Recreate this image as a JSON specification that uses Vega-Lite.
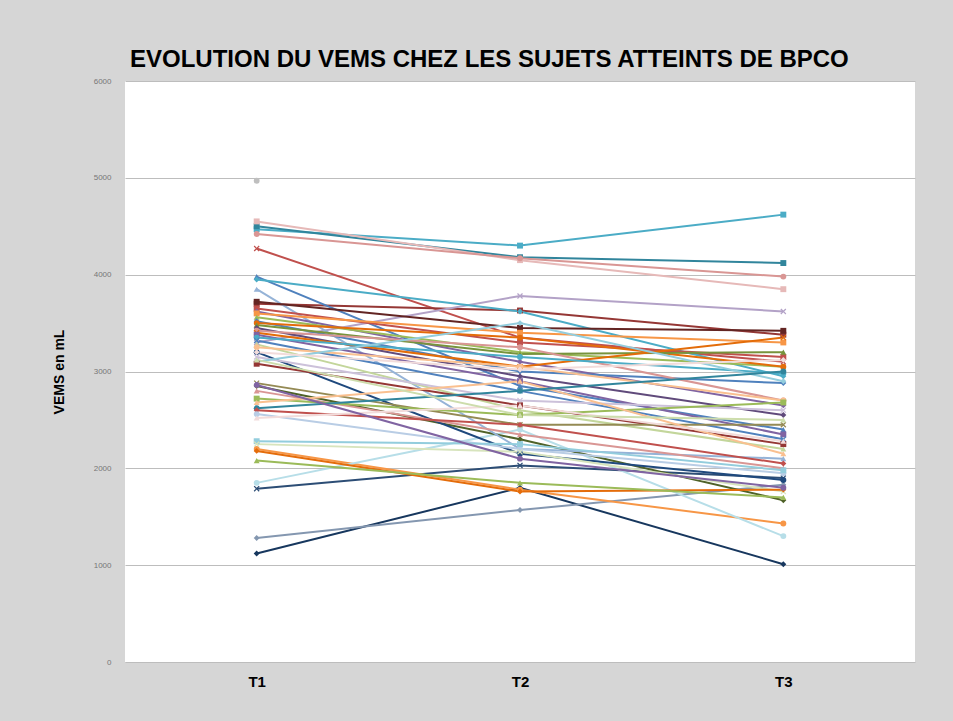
{
  "$schema": "https://vega.github.io/schema/vega-lite/v6.json",
  "width": 790,
  "height": 581,
  "autosize": {"type": "none"},
  "padding": {"left": 125, "top": 81, "right": 38, "bottom": 59},
  "background": "#d6d6d6",
  "title": {"text": "EVOLUTION DU VEMS CHEZ LES SUJETS ATTEINTS DE BPCO", "anchor": "start", "frame": "group", "dx": 5, "offset": 5, "font": "Liberation Sans", "fontSize": 24, "fontWeight": "bold", "color": "#000000"},
  "config": {"view": {"fill": "white", "stroke": null}},
  "data": {"values": [
    {"s":"s01","t":"T1","v":4470},{"s":"s01","t":"T2","v":4300},{"s":"s01","t":"T3","v":4620},
    {"s":"s02","t":"T1","v":4500},{"s":"s02","t":"T2","v":4180},{"s":"s02","t":"T3","v":4120},
    {"s":"s03","t":"T1","v":4550},{"s":"s03","t":"T2","v":4150},{"s":"s03","t":"T3","v":3850},
    {"s":"s04","t":"T1","v":4420},{"s":"s04","t":"T2","v":4170},{"s":"s04","t":"T3","v":3980},
    {"s":"s05","t":"T1","v":4270},{"s":"s05","t":"T2","v":3350},{"s":"s05","t":"T3","v":3100},
    {"s":"s06","t":"T1","v":4970},
    {"s":"s07","t":"T1","v":3700},{"s":"s07","t":"T2","v":3630},{"s":"s07","t":"T3","v":3380},
    {"s":"s08","t":"T1","v":3300},{"s":"s08","t":"T2","v":3780},{"s":"s08","t":"T3","v":3620},
    {"s":"s09","t":"T1","v":1120},{"s":"s09","t":"T2","v":1800},{"s":"s09","t":"T3","v":1010},
    {"s":"s10","t":"T1","v":1280},{"s":"s10","t":"T2","v":1570},{"s":"s10","t":"T3","v":1830},
    {"s":"s11","t":"T1","v":1790},{"s":"s11","t":"T2","v":2030},{"s":"s11","t":"T3","v":1900},
    {"s":"s12","t":"T1","v":2200},{"s":"s12","t":"T2","v":1780},{"s":"s12","t":"T3","v":1430},
    {"s":"s13","t":"T1","v":1850},{"s":"s13","t":"T2","v":2400},{"s":"s13","t":"T3","v":1300},
    {"s":"s14","t":"T1","v":2850},{"s":"s14","t":"T2","v":2300},{"s":"s14","t":"T3","v":1670},
    {"s":"s15","t":"T1","v":3980},{"s":"s15","t":"T2","v":2850},{"s":"s15","t":"T3","v":2400},
    {"s":"s16","t":"T1","v":3850},{"s":"s16","t":"T2","v":2200},{"s":"s16","t":"T3","v":2100},
    {"s":"s17","t":"T1","v":3950},{"s":"s17","t":"T2","v":3620},{"s":"s17","t":"T3","v":2950},
    {"s":"s18","t":"T1","v":3200},{"s":"s18","t":"T2","v":2150},{"s":"s18","t":"T3","v":1880},
    {"s":"s19","t":"T1","v":3720},{"s":"s19","t":"T2","v":3450},{"s":"s19","t":"T3","v":3420},
    {"s":"s20","t":"T1","v":3650},{"s":"s20","t":"T2","v":3300},{"s":"s20","t":"T3","v":3150},
    {"s":"s21","t":"T1","v":3620},{"s":"s21","t":"T2","v":3100},{"s":"s21","t":"T3","v":2650},
    {"s":"s22","t":"T1","v":3600},{"s":"s22","t":"T2","v":3400},{"s":"s22","t":"T3","v":3300},
    {"s":"s23","t":"T1","v":3560},{"s":"s23","t":"T2","v":3200},{"s":"s23","t":"T3","v":3050},
    {"s":"s24","t":"T1","v":3520},{"s":"s24","t":"T2","v":3000},{"s":"s24","t":"T3","v":2880},
    {"s":"s25","t":"T1","v":3500},{"s":"s25","t":"T2","v":3350},{"s":"s25","t":"T3","v":3050},
    {"s":"s26","t":"T1","v":3480},{"s":"s26","t":"T2","v":3180},{"s":"s26","t":"T3","v":3200},
    {"s":"s27","t":"T1","v":3450},{"s":"s27","t":"T2","v":2950},{"s":"s27","t":"T3","v":2550},
    {"s":"s28","t":"T1","v":3420},{"s":"s28","t":"T2","v":3250},{"s":"s28","t":"T3","v":2700},
    {"s":"s29","t":"T1","v":3400},{"s":"s29","t":"T2","v":3050},{"s":"s29","t":"T3","v":3350},
    {"s":"s30","t":"T1","v":3380},{"s":"s30","t":"T2","v":2900},{"s":"s30","t":"T3","v":2350},
    {"s":"s31","t":"T1","v":3350},{"s":"s31","t":"T2","v":3150},{"s":"s31","t":"T3","v":2980},
    {"s":"s32","t":"T1","v":3320},{"s":"s32","t":"T2","v":2800},{"s":"s32","t":"T3","v":2300},
    {"s":"s33","t":"T1","v":3280},{"s":"s33","t":"T2","v":2600},{"s":"s33","t":"T3","v":2200},
    {"s":"s34","t":"T1","v":3250},{"s":"s34","t":"T2","v":3050},{"s":"s34","t":"T3","v":2700},
    {"s":"s35","t":"T1","v":3150},{"s":"s35","t":"T2","v":2700},{"s":"s35","t":"T3","v":2600},
    {"s":"s36","t":"T1","v":3100},{"s":"s36","t":"T2","v":3500},{"s":"s36","t":"T3","v":2900},
    {"s":"s37","t":"T1","v":3080},{"s":"s37","t":"T2","v":2650},{"s":"s37","t":"T3","v":2250},
    {"s":"s38","t":"T1","v":2880},{"s":"s38","t":"T2","v":2450},{"s":"s38","t":"T3","v":2450},
    {"s":"s39","t":"T1","v":2800},{"s":"s39","t":"T2","v":2350},{"s":"s39","t":"T3","v":2000},
    {"s":"s40","t":"T1","v":2720},{"s":"s40","t":"T2","v":2550},{"s":"s40","t":"T3","v":2680},
    {"s":"s41","t":"T1","v":2680},{"s":"s41","t":"T2","v":2900},{"s":"s41","t":"T3","v":2150},
    {"s":"s42","t":"T1","v":2620},{"s":"s42","t":"T2","v":2800},{"s":"s42","t":"T3","v":3000},
    {"s":"s43","t":"T1","v":2600},{"s":"s43","t":"T2","v":2450},{"s":"s43","t":"T3","v":2050},
    {"s":"s44","t":"T1","v":2560},{"s":"s44","t":"T2","v":2200},{"s":"s44","t":"T3","v":1950},
    {"s":"s45","t":"T1","v":2520},{"s":"s45","t":"T2","v":2650},{"s":"s45","t":"T3","v":2280},
    {"s":"s46","t":"T1","v":2280},{"s":"s46","t":"T2","v":2250},{"s":"s46","t":"T3","v":1980},
    {"s":"s47","t":"T1","v":2250},{"s":"s47","t":"T2","v":2170},{"s":"s47","t":"T3","v":1760},
    {"s":"s48","t":"T1","v":2180},{"s":"s48","t":"T2","v":1760},{"s":"s48","t":"T3","v":1780},
    {"s":"s49","t":"T1","v":2080},{"s":"s49","t":"T2","v":1850},{"s":"s49","t":"T3","v":1700},
    {"s":"s50","t":"T1","v":2860},{"s":"s50","t":"T2","v":2100},{"s":"s50","t":"T3","v":1800},
    {"s":"s51","t":"T1","v":3200},{"s":"s51","t":"T2","v":3020},{"s":"s51","t":"T3","v":3120},
    {"s":"s52","t":"T1","v":3120},{"s":"s52","t":"T2","v":2550},{"s":"s52","t":"T3","v":2500}
  ]},
  "encoding": {
    "x": {"field": "t", "type": "nominal", "sort": ["T1", "T2", "T3"],
      "axis": {"title": null, "labelAngle": 0, "labelFont": "Liberation Sans", "labelFontSize": 15, "labelFontWeight": "bold", "labelColor": "#000000", "labelPadding": 12, "ticks": false, "domain": false, "grid": false}},
    "y": {"field": "v", "type": "quantitative", "scale": {"domain": [0, 6000], "nice": false},
      "axis": {"title": "VEMS en mL", "values": [0, 1000, 2000, 3000, 4000, 5000, 6000], "format": "d", "labelFont": "Liberation Sans", "labelFontSize": 8, "labelColor": "#777777", "labelPadding": 14, "ticks": false, "domain": false, "gridColor": "#bdbdbd", "gridWidth": 1, "titleFont": "Liberation Sans", "titleFontSize": 14, "titleFontWeight": "bold", "titleColor": "#000000", "titlePadding": 27}},
    "color": {"field": "s", "type": "nominal", "legend": null,
      "scale": {
        "domain": ["s01","s02","s03","s04","s05","s06","s07","s08","s09","s10","s11","s12","s13","s14","s15","s16","s17","s18","s19","s20","s21","s22","s23","s24","s25","s26","s27","s28","s29","s30","s31","s32","s33","s34","s35","s36","s37","s38","s39","s40","s41","s42","s43","s44","s45","s46","s47","s48","s49","s50","s51","s52"],
        "range": ["#4BACC6","#31859C","#E6B9B8","#D99694","#C0504D","#BFBFBF","#953735","#B3A2C7","#17375E","#8497B0","#2C4D75","#F79646","#B7DEE8","#4F6228","#4F81BD","#95B3D7","#4BACC6","#1F497D","#632523","#C0504D","#8064A2","#F79646","#9BBB59","#4F81BD","#E46C0A","#77933C","#604A7B","#D99694","#E36C09","#8064A2","#4BACC6","#4F81BD","#C3D69B","#FAC090","#CCC1DA","#93CDDD","#953735","#948A54","#D99694","#9BBB59","#FAC090","#31859C","#C0504D","#B9CDE5","#F2DCDB","#93CDDD","#D7E4BD","#E46C0A","#9BBB59","#8064A2","#F2DCDB","#CDDDAC"]
      }}
  },
  "layer": [
    {"mark": {"type": "line", "strokeWidth": 2}},
    {"mark": {"type": "point", "filled": true, "size": 35, "opacity": 1},
     "encoding": {"shape": {"field": "s", "type": "nominal", "legend": null,
       "scale": {
         "domain": ["s01","s02","s03","s04","s05","s06","s07","s08","s09","s10","s11","s12","s13","s14","s15","s16","s17","s18","s19","s20","s21","s22","s23","s24","s25","s26","s27","s28","s29","s30","s31","s32","s33","s34","s35","s36","s37","s38","s39","s40","s41","s42","s43","s44","s45","s46","s47","s48","s49","s50","s51","s52"],
         "range": ["square","square","square","circle","M-1,-0.7L-0.7,-1L0,-0.3L0.7,-1L1,-0.7L0.3,0L1,0.7L0.7,1L0,0.3L-0.7,1L-1,0.7L-0.3,0Z","circle","square","M-1,-0.7L-0.7,-1L0,-0.3L0.7,-1L1,-0.7L0.3,0L1,0.7L0.7,1L0,0.3L-0.7,1L-1,0.7L-0.3,0Z","diamond","diamond","M-1,-0.7L-0.7,-1L0,-0.3L0.7,-1L1,-0.7L0.3,0L1,0.7L0.7,1L0,0.3L-0.7,1L-1,0.7L-0.3,0Z","circle","circle","diamond","triangle-up","triangle-up","diamond","circle","square","square","diamond","square","triangle-up","diamond","circle","triangle-up","diamond","circle","M-1,-0.7L-0.7,-1L0,-0.3L0.7,-1L1,-0.7L0.3,0L1,0.7L0.7,1L0,0.3L-0.7,1L-1,0.7L-0.3,0Z","square","circle","M-1,-0.7L-0.7,-1L0,-0.3L0.7,-1L1,-0.7L0.3,0L1,0.7L0.7,1L0,0.3L-0.7,1L-1,0.7L-0.3,0Z","triangle-up","circle","M-1,-0.7L-0.7,-1L0,-0.3L0.7,-1L1,-0.7L0.3,0L1,0.7L0.7,1L0,0.3L-0.7,1L-1,0.7L-0.3,0Z","diamond","square","M-1,-0.7L-0.7,-1L0,-0.3L0.7,-1L1,-0.7L0.3,0L1,0.7L0.7,1L0,0.3L-0.7,1L-1,0.7L-0.3,0Z","triangle-up","square","triangle-up","circle","diamond","circle","triangle-up","square","M-1,-0.7L-0.7,-1L0,-0.3L0.7,-1L1,-0.7L0.3,0L1,0.7L0.7,1L0,0.3L-0.7,1L-1,0.7L-0.3,0Z","diamond","triangle-up","circle","diamond","triangle-up"]
       }}}}
  ]
}
